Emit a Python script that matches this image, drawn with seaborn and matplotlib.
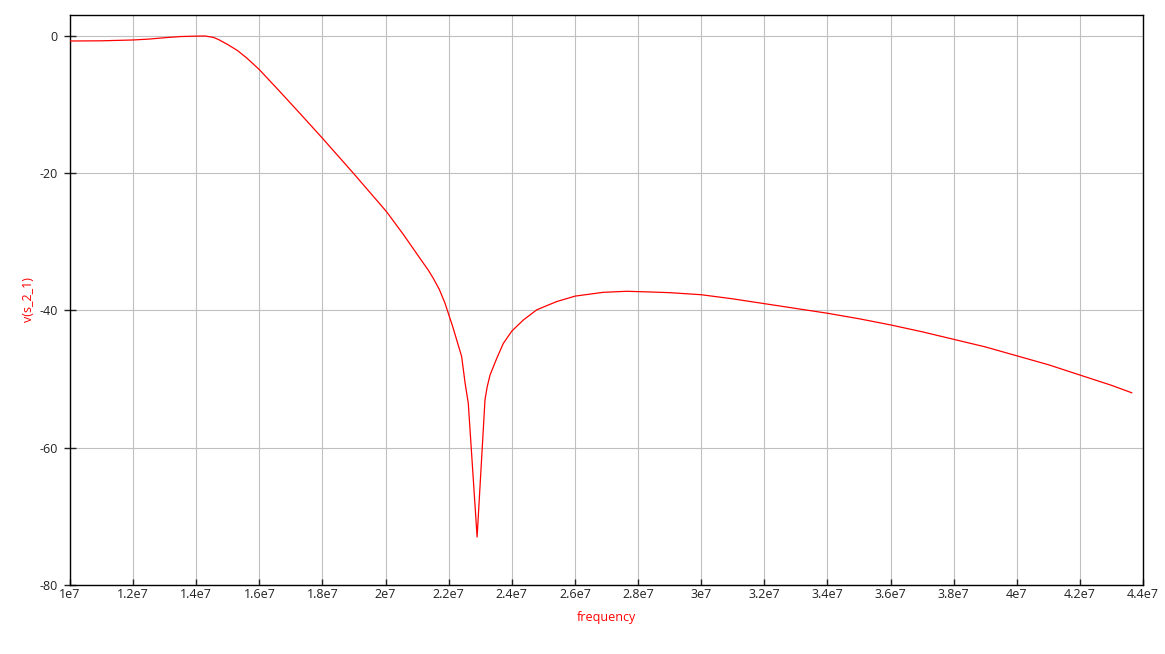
import numpy as np
import pandas as pd
import matplotlib
matplotlib.use("Agg")
import matplotlib.pyplot as plt
import seaborn as sns

freq = [1.0e7, 1.1e7, 1.2e7, 1.25e7, 1.3e7, 1.35e7, 1.4e7, 1.428e7, 1.454e7, 1.47e7,
        1.5e7, 1.53e7, 1.56e7, 1.6e7, 1.665e7, 1.729e7, 1.80e7, 1.898e7, 2.003e7, 2.056e7,
        2.109e7, 2.135e7, 2.151e7, 2.17e7, 2.188e7, 2.213e7, 2.241e7, 2.252e7, 2.262e7,
        2.29e7, 2.315e7, 2.322e7, 2.331e7, 2.352e7, 2.373e7, 2.40e7, 2.436e7, 2.479e7,
        2.542e7, 2.601e7, 2.69e7, 2.764e7, 2.838e7, 2.90e7, 3.0e7, 3.1e7, 3.2e7, 3.3e7,
        3.4e7, 3.5e7, 3.6e7, 3.7e7, 3.8e7, 3.9e7, 4.0e7, 4.1e7, 4.2e7, 4.3e7, 4.365e7]
gain = [-0.73, -0.7, -0.58, -0.45, -0.25, -0.08, -0.02, 0.0, -0.2, -0.5,
        -1.25, -2.1, -3.2, -4.9, -8.1, -11.3, -14.9, -20.0, -25.6, -28.9,
        -32.4, -34.1, -35.3, -36.9, -38.9, -42.4, -46.7, -50.6, -53.5,
        -73.0, -53.0, -51.1, -49.4, -47.0, -44.8, -43.0, -41.4, -39.9,
        -38.7, -37.9, -37.35, -37.2, -37.3, -37.4, -37.7, -38.3, -39.0, -39.7,
        -40.4, -41.2, -42.1, -43.1, -44.2, -45.3, -46.6, -47.9, -49.4, -50.9, -52.0]

xticks = [1e7, 1.2e7, 1.4e7, 1.6e7, 1.8e7, 2e7, 2.2e7, 2.4e7, 2.6e7, 2.8e7,
          3e7, 3.2e7, 3.4e7, 3.6e7, 3.8e7, 4e7, 4.2e7, 4.4e7]
xticklabels = ["1e7", "1.2e7", "1.4e7", "1.6e7", "1.8e7", "2e7", "2.2e7", "2.4e7", "2.6e7",
               "2.8e7", "3e7", "3.2e7", "3.4e7", "3.6e7", "3.8e7", "4e7", "4.2e7", "4.4e7"]
yticks = [0, -20, -40, -60, -80]
yticklabels = ["0", "-20", "-40", "-60", "-80"]

sns.set_style("white")
plt.rcParams['font.family'] = ['Open Sans', 'DejaVu Sans']

df = pd.DataFrame({"frequency": freq, "v(s_2_1)": gain})

fig = plt.figure(figsize=(11.65, 6.54), dpi=100)
ax = fig.add_axes([70/1165, 1 - 585/654, (1143-70)/1165, (585-15)/654])

sns.lineplot(data=df, x="frequency", y="v(s_2_1)", ax=ax, color="#ff0000",
             linewidth=0.9, zorder=3)

ax.set_xlim(1e7, 4.4e7)
ax.set_ylim(-80, 3.06)
ax.set_xticks(xticks)
ax.set_xticklabels(xticklabels)
ax.set_yticks(yticks)
ax.set_yticklabels(yticklabels)
ax.grid(True, color="#c0c0c0", linewidth=0.8)
ax.set_axisbelow(True)
for s in ax.spines.values():
    s.set_visible(True)
    s.set_color("black")
    s.set_linewidth(1.0)

ax.tick_params(axis="x", direction="in", length=4, width=1, labelsize=9,
               colors="#222222", pad=2, bottom=True)
ax.tick_params(axis="y", direction="inout", length=8, width=1, labelsize=9,
               colors="#222222", pad=5, left=True)

ax.set_xlabel("frequency", color="#ff0000", fontsize=9, labelpad=7)
ax.set_ylabel("v(s_2_1)", color="#ff0000", fontsize=9, labelpad=3)

fig.savefig("out.png", dpi=100)
